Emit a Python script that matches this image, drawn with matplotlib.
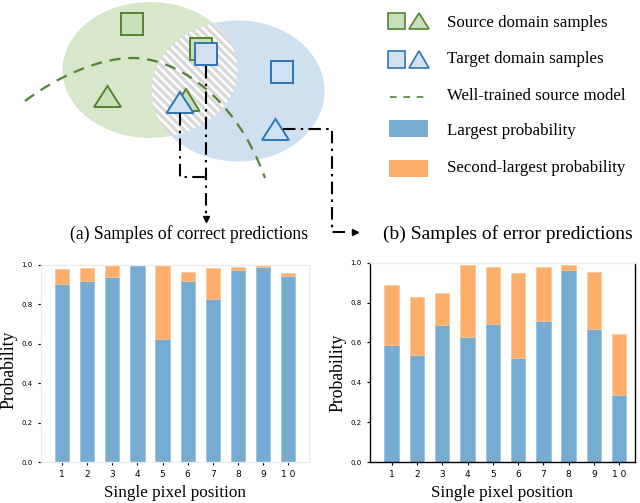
import numpy as np
import matplotlib
matplotlib.use("Agg")
import matplotlib.pyplot as plt
from matplotlib.patches import Ellipse, Rectangle, Polygon, PathPatch
from matplotlib.path import Path

plt.rcParams['hatch.linewidth'] = 1.8
plt.rcParams['hatch.color'] = 'white'

# bar data
positions = [1, 2, 3, 4, 5, 6, 7, 8, 9, 10]
tick_labels = ['1', '2', '3', '4', '5', '6', '7', '8', '9', '1 0']
correct_largest = [0.904, 0.919, 0.936, 1.0, 0.623, 0.919, 0.828, 0.975, 0.99, 0.941]
correct_second = [0.076, 0.066, 0.064, 0.0, 0.377, 0.046, 0.157, 0.015, 0.007, 0.02]
error_largest = [0.588, 0.536, 0.687, 0.630, 0.692, 0.521, 0.709, 0.965, 0.667, 0.336]
error_second = [0.301, 0.291, 0.162, 0.360, 0.288, 0.429, 0.271, 0.022, 0.289, 0.306]
yticks = [0.0, 0.2, 0.4, 0.6, 0.8, 1.0]

legend_labels = ['Source domain samples', 'Target domain samples',
                 'Well-trained source model', 'Largest probability',
                 'Second-largest probability']
caption_a = '(a) Samples of correct predictions'
caption_b = '(b) Samples of error predictions'

BLUE_BAR = '#76abd2'
ORANGE_BAR = '#fdae6b'
GREEN = '#548235'
GREEN_FILL = '#c9e1b8'
BLUE = '#2e75b6'
BLUE_FILL = '#cfe1f3'
SERIF = 'Liberation Serif'

fig = plt.figure(figsize=(6.4, 5.03), dpi=100)

# ---------- schematic (pixel coordinates) ----------
dax = fig.add_axes([0, 0, 1, 1])
dax.set_xlim(0, 640)
dax.set_ylim(503, 0)
dax.axis('off')

green_ell = Ellipse((150, 70), 175, 136, facecolor='#d6e8c9', edgecolor='none', zorder=1)
blue_ell = Ellipse((238, 91), 173, 141, facecolor='#cfe0f1', edgecolor='none', zorder=1)
dax.add_patch(green_ell)
dax.add_patch(blue_ell)
overlap = Ellipse((238, 91), 173, 141, facecolor='#d9d9d9', edgecolor='white',
                  hatch='\\\\\\\\', lw=0, zorder=2)
dax.add_patch(overlap)
overlap.set_clip_path(green_ell)

# decision boundary
verts = [(25, 101), (60, 75), (100, 58), (133, 58),
         (175, 58), (235, 95), (265, 178)]
codes = [Path.MOVETO] + [Path.CURVE4] * 6
dax.add_patch(PathPatch(Path(verts, codes), facecolor='none', edgecolor=GREEN,
                        lw=1.6, linestyle=(0, (5, 3.5)), zorder=3))


def square(x0, y0, s, fc, ec):
    dax.add_patch(Rectangle((x0, y0), s, s, facecolor=fc, edgecolor=ec, lw=1.4, zorder=4))


def triangle(cx, base_y, w, h, fc, ec):
    dax.add_patch(Polygon([(cx - w / 2, base_y), (cx + w / 2, base_y), (cx, base_y - h)],
                          closed=True, facecolor=fc, edgecolor=ec, lw=1.4, zorder=4))


square(121, 13, 22, GREEN_FILL, GREEN)
triangle(107.5, 107, 27, 21, GREEN_FILL, GREEN)
square(190, 38, 22, GREEN_FILL, GREEN)
square(195, 43, 22, BLUE_FILL, BLUE)
triangle(186, 111, 27, 22, GREEN_FILL, GREEN)
triangle(180, 113, 27, 21, BLUE_FILL, BLUE)
square(271, 61, 22, BLUE_FILL, BLUE)
triangle(275.5, 140, 27, 21, BLUE_FILL, BLUE)

# dash-dot connectors
dd = dict(color='black', lw=1.5, linestyle=(0, (6, 2.5, 1.2, 2.5)), zorder=5)
dax.plot([206, 206], [66, 216], **dd)
dax.plot([180, 180, 206], [113, 177, 177], **dd)
dax.plot([283, 332, 332, 350], [129, 129, 232, 232], **dd)
dax.plot([206], [219], marker='v', color='black', markersize=5, zorder=6)
dax.plot([355], [232], marker='>', color='black', markersize=5, zorder=6)

# captions
dax.text(189, 234, caption_a, ha='center', va='center', fontsize=12.7, family=SERIF)
dax.text(508, 234, caption_b, ha='center', va='center', fontsize=14.0, family=SERIF)

# legend
lx = 388
dax.add_patch(Rectangle((lx, 13), 17, 16, facecolor=GREEN_FILL, edgecolor=GREEN, lw=1.2))
dax.add_patch(Polygon([(409, 29), (429, 29), (419, 13)], facecolor=GREEN_FILL,
                      edgecolor=GREEN, lw=1.2))
dax.add_patch(Rectangle((lx, 51), 17, 17, facecolor=BLUE_FILL, edgecolor=BLUE, lw=1.2))
dax.add_patch(Polygon([(409, 68), (429, 68), (419, 51)], facecolor=BLUE_FILL,
                      edgecolor=BLUE, lw=1.2))
dax.plot([390, 426], [97, 97], color=GREEN, lw=1.2, linestyle=(0, (4, 4)))
dax.add_patch(Rectangle((389, 120), 39, 17, facecolor=BLUE_BAR, edgecolor='none'))
dax.add_patch(Rectangle((389, 160), 39, 17, facecolor=ORANGE_BAR, edgecolor='none'))
for ty, lab in zip([23, 59, 96, 131, 168], legend_labels):
    dax.text(447, ty, lab, ha='left', va='center', fontsize=12.2, family=SERIF)


# ---------- bar charts ----------
def bar_panel(rect, largest, second, xlim, dark_spines, ylab_pos):
    ax = fig.add_axes(rect)
    ax.bar(positions, largest, width=0.57, color=BLUE_BAR, edgecolor='#8fbde0', lw=0.5)
    ax.bar(positions, second, width=0.57, bottom=largest, color=ORANGE_BAR,
           edgecolor='#fdc793', lw=0.5)
    ax.set_xlim(*xlim)
    ax.set_ylim(0, 1.0)
    ax.set_xticks(positions)
    ax.set_xticklabels(tick_labels, fontsize=6.5)
    ax.set_yticks(yticks)
    ax.set_yticklabels(['%.1f' % v for v in yticks], fontsize=5)
    ax.tick_params(axis='both', length=2, width=0.8, pad=4)
    for name, sp in ax.spines.items():
        if name in dark_spines:
            sp.set_color('black')
        else:
            sp.set_color('#ebebeb')
        sp.set_linewidth(1.0)
    ax.set_xlabel('Single pixel position', family=SERIF, fontsize=12.3, labelpad=4)
    ax.set_ylabel('Probability', family=SERIF, fontsize=12.8)
    ax.yaxis.set_label_coords(*ylab_pos)
    return ax


ax1 = bar_panel([0.0636, 0.0815, 0.419, 0.392], correct_largest, correct_second,
                (0.15, 10.82), [], (-0.086, 0.467))
ax2 = bar_panel([0.578, 0.0815, 0.414, 0.396], error_largest, error_second,
                (0.14, 10.62), ['left', 'bottom', 'right'], (-0.09, 0.447))

fig.savefig('out.png', dpi=100)
